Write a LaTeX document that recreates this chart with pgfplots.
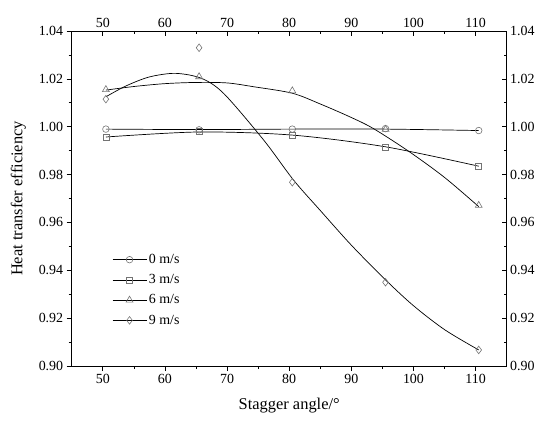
\documentclass[border=0pt]{standalone}
\usepackage{fontspec}
\setmainfont{Liberation Serif}
\usepackage{pgfplots}
\pgfplotsset{compat=1.18}
\definecolor{markgray}{gray}{0.45}

\begin{document}
\begin{tikzpicture}
\pgfplotsset{
  common/.style={
    at={(0,0)}, anchor=south west,
    scale only axis, width=435bp, height=335bp,
    xmin=45, xmax=115, ymin=0.90, ymax=1.04,
    xtick={50,60,70,80,90,100,110}, minor x tick num=1,
    ytick={0.90,0.92,0.94,0.96,0.98,1.00,1.02,1.04}, minor y tick num=1,
    major tick length=5bp, minor tick length=3bp,
    tick style={black, line width=0.6pt},
    axis line style={-, line width=0.8pt},
    /pgf/number format/assume math mode=true,
    yticklabel style={/pgf/number format/fixed, /pgf/number format/fixed zerofill, /pgf/number format/precision=2},
    ticklabel style={font=\fontsize{14}{16}\selectfont},
  },
  mk/.style={only marks, mark options={solid, draw=markgray, fill=white, line width=0.6pt}},
  ln/.style={black, line width=0.7pt, smooth, no marks, forget plot},
}
\begin{axis}[common,
  axis x line*=bottom, axis y line*=left, tick align=outside,
  xlabel={Stagger angle/°}, ylabel={Heat transfer efficiency},
  label style={font=\fontsize{16.5}{19}\selectfont},
  xlabel shift=7bp, ylabel shift=6bp,
  legend cell align=left,
  legend image code/.code={\draw[#1, sharp plot, mark repeat=2, mark phase=2] plot coordinates {(0bp,0bp) (17bp,0bp) (34bp,0bp)};},
  legend style={draw=none, fill=none, at={(0.0926,0.34)}, anchor=north west,
     font=\fontsize{14}{16}\selectfont, row sep=5.5bp, inner sep=0pt},
]
% fitted curves
\addplot[ln] coordinates {(50.5,0.9990) (65.5,0.9988) (80.5,0.9990) (95.5,0.9990) (110.5,0.9984)};
\addplot[ln] coordinates {(50.5,0.9957) (65.5,0.9978) (80.5,0.9965) (95.5,0.9916) (110.5,0.9835)};
\addplot[ln] coordinates {(50.5,1.0153) (55,1.0168) (60,1.0180) (65,1.0185) (70,1.0183) (74.3,1.0167) (80.5,1.0140) (85,1.0095) (89.7,1.0042) (93.5,0.9993) (99.3,0.9896) (105,0.9788) (110.5,0.9666)};
\addplot[ln] coordinates {(50.5,1.0125) (53.7,1.0170) (57.5,1.0208) (61.7,1.0223) (65.9,1.0202) (69.5,1.0138) (75.9,0.9944) (80.7,0.9777) (85,0.9650) (90,0.9505) (95.5,0.9360) (100,0.9252) (105,0.9152) (110.5,0.9067)};
% data points
\addplot[mk, mark=o, mark size=3.3bp, forget plot] coordinates {(50.5,0.9990) (65.5,0.9987) (80.5,0.9990) (95.5,0.9992) (110.5,0.9984)};
\addplot[mk, mark=square, mark size=3bp, forget plot] coordinates {(50.5,0.9957) (65.5,0.9980) (80.5,0.9965) (95.5,0.9916) (110.5,0.9835)};
\addplot[mk, mark=triangle, mark size=4bp, forget plot] coordinates {(50.5,1.0155) (65.5,1.0209) (80.5,1.0150) (95.5,0.9989) (110.5,0.9671)};
\addplot[mk, mark=diamond, mark size=3.8bp, forget plot] coordinates {(50.5,1.0115) (65.5,1.0330) (80.5,0.9768) (95.5,0.9350) (110.5,0.9067)};
% legend
\addlegendimage{black, line width=0.7pt, mark=o, mark size=3.3bp, mark options={solid, draw=markgray, fill=white, line width=0.6pt}}
\addlegendentry{0 m/s}
\addlegendimage{black, line width=0.7pt, mark=square, mark size=3bp, mark options={solid, draw=markgray, fill=white, line width=0.6pt}}
\addlegendentry{3 m/s}
\addlegendimage{black, line width=0.7pt, mark=triangle, mark size=4bp, mark options={solid, draw=markgray, fill=white, line width=0.6pt}}
\addlegendentry{6 m/s}
\addlegendimage{black, line width=0.7pt, mark=diamond, mark size=3.8bp, mark options={solid, draw=markgray, fill=white, line width=0.6pt}}
\addlegendentry{9 m/s}
\end{axis}
\begin{axis}[common,
  axis x line*=top, axis y line*=right, tick align=inside,
]
\end{axis}
\pgfresetboundingbox
\useasboundingbox (-71.7bp,-55bp) rectangle (469.3bp,366bp);
\end{tikzpicture}
\end{document}
